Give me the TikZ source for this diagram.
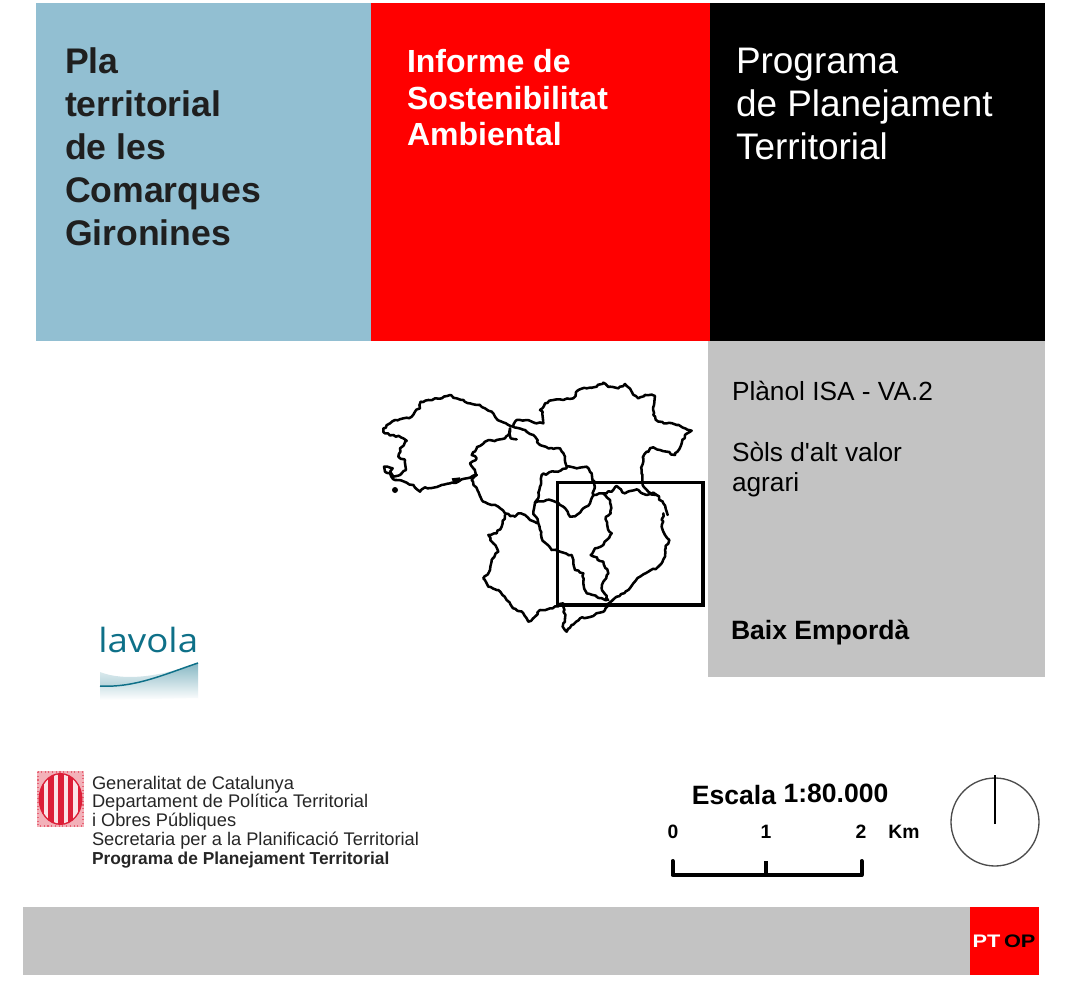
\documentclass[tikz,border=0pt]{standalone}
\usepackage{fontspec}
\setmainfont{Liberation Sans}
\newfontfamily\plainfont{Liberation Sans}
\usetikzlibrary{decorations.pathmorphing}
\definecolor{skyb}{HTML}{92BFD2}
\definecolor{panelgray}{HTML}{C3C3C3}
\definecolor{ptred}{HTML}{FF0000}
\definecolor{teal1}{HTML}{0E7088}
\definecolor{armred}{HTML}{DC1F38}
\newcommand{\fs}[2]{\fontsize{#1pt}{#2pt}\selectfont}
\newfontfamily\logofont{Open Sans}
\tikzset{
  txt/.style={inner sep=0pt,outer sep=0pt,anchor=north west,align=left},
  maplines/.style={draw=black,line width=1.9pt,line join=round,line cap=round,
     decorate,decoration={random steps,segment length=2.2pt,amplitude=0.8pt}},
  scaleline/.style={draw=black,line width=3pt,line cap=round,line join=round},
  scaletxt/.style={inner sep=0pt,anchor=base,font=\bfseries\fs{14.5}{16}},
  escaletxt/.style={inner sep=0pt,anchor=base,font=\bfseries\fs{19.9}{22}}
}
\begin{document}
\begin{tikzpicture}[x=0.75pt,y=-0.75pt]
\useasboundingbox (0,0) rectangle (1083,989);
\fill[white] (0,0) rectangle (1083,989);
\fill[skyb] (36,3) rectangle (371,341);
\fill[ptred] (371,3) rectangle (710,341);
\fill[black] (710,3) rectangle (1045,341);
\fill[panelgray] (708,341) rectangle (1045,677);
\fill[panelgray] (23,907) rectangle (970,975);
\fill[ptred] (970,907) rectangle (1039,975);

\node[txt,text=black!88,font=\bfseries\fs{26.7}{32.2}] (pla) at (65,47.5) {Pla\\territorial\\de les\\Comarques\\Gironines};
\node[txt,text=white,font=\bfseries\fs{24}{27.3}] (isa) at (407,49.5) {Informe de\\Sostenibilitat\\Ambiental};
\node[txt,text=white,font=\fs{27.7}{32.2}] (prog) at (736,48.5) {Programa\\de Planejament\\Territorial};
\node[txt,text=black,font=\fs{19.7}{22.5}] (pl) at (732,381) {Plànol ISA - VA.2};
\node[txt,text=black,font=\plainfont\fs{19.7}{22.5}] (sols) at (732,442) {Sòls d'alt valor\\agrari};
\node[txt,text=black,font=\bfseries\fs{19.9}{22.5}] (be) at (731,620) {Baix Empordà};

% map
\begin{scope}[shift={(370,370)},x=0.25pt,y=-0.25pt]
\pgfmathsetseed{7}
\draw[maplines] (430,170)--(415,165)--(395,155)--(375,140)--(365,125)--(345,115)--(325,105)--(300,100)--(280,90)--(260,85)--(240,75)--(215,85)--(195,85)--(175,90)--(152,95)--(150,115)--(135,125)--(125,140)--(100,145)--(75,150)--(60,160)--(40,175)--(45,190)--(70,195)--(100,205)--(110,212)--(90,235)--(85,260)--(105,270)--(108,300)--(90,315)--(70,320)--(60,305)--(68,295)--(42,290)--(45,305)--(60,310)--(75,330)--(110,338)--(130,345)--(150,365)--(165,352)--(195,352)--(215,345)--(240,340)--(265,335)--(290,325)--(320,315);
\fill[black] (75,360) circle (9);
\fill[black] (245,325)--(270,322)--(270,335)--(250,340)--cycle;
\draw[maplines] (430,170)--(440,150)--(470,150)--(500,160)--(520,160)--(518,125)--(510,120)--(525,100)--(550,90)--(580,90)--(610,85)--(625,60)--(650,55)--(680,50)--(700,38)--(720,50)--(745,55)--(765,42)--(785,65)--(805,85)--(825,75)--(855,78)--(850,110)--(850,135)--(865,155)--(890,160)--(920,165)--(965,182)--(945,195)--(935,220)--(915,255)--(890,245)--(870,240)--(850,232)--(830,245)--(820,265)--(815,300)--(818,345)--(835,365)--(860,375)--(880,400)--(893,435);
\draw[maplines] (880,430)--(875,470)--(885,495)--(898,510)--(885,540)--(885,560)--(865,590)--(835,605)--(810,620)--(790,640)--(775,660)--(740,680)--(715,700)--(705,720)--(670,738)--(630,745)--(605,765)--(590,785)--(578,770)--(585,745)--(580,710);
\draw[maplines] (440,208)--(422,205)--(420,175)--(415,195)--(405,205)--(380,210)--(345,215)--(320,235)--(305,255)--(320,265)--(300,280)--(320,315)--(305,330)--(325,365)--(340,395)--(365,405)--(385,410)--(405,430)--(435,440)--(445,430)--(465,435)--(480,450)--(500,460);
\draw[maplines] (432,172)--(465,180)--(490,195)--(510,225)--(535,235)--(570,235)--(585,260)--(590,290)--(620,295)--(650,290)--(665,310)--(672,340)--(670,375)--(660,400)--(640,415)--(620,435)--(600,440)--(580,410)--(555,395)--(530,390)--(495,398)--(490,425)--(505,460)--(515,505)--(545,540)--(570,545)--(605,555)--(615,600)--(640,610)--(640,640)--(650,670)--(680,680)--(710,690);
\draw[maplines] (590,295)--(555,305)--(515,315)--(510,350)--(505,385)--(495,398);
\draw[maplines] (672,375)--(700,370)--(725,365)--(740,348)--(765,370)--(805,360)--(830,375)--(860,375);
\draw[maplines] (700,370)--(720,390)--(722,430)--(708,440)--(715,480)--(725,490)--(700,525)--(675,535)--(662,555)--(700,575)--(715,610)--(700,635)--(695,655)--(715,690);
\draw[maplines] (405,435)--(395,470)--(380,490)--(355,495)--(370,520)--(385,545)--(365,570)--(360,600)--(340,625)--(355,650)--(385,660)--(410,690)--(430,715)--(460,730)--(475,755)--(495,740)--(510,720)--(540,715)--(580,700);
\draw[black,line width=2.6pt] (563,337) rectangle (999,705);
\end{scope}

% iavola logo
\node[inner sep=0pt,anchor=base west,text=teal1,font=\logofont\fs{25}{25},xscale=1.1] (lav) at (98,652) {lavola};
\shade[top color=teal1!5,bottom color=teal1!32] (100,672) .. controls (125,682) and (165,676) .. (198,662) -- (198,663) .. controls (165,674) and (135,688) .. (100,686) -- cycle;
\shade[top color=teal1!50,bottom color=white] (100,686) .. controls (135,688) and (165,674) .. (198,663) -- (198,698) -- (100,700) -- cycle;
\draw[teal1,line width=1.1pt] (100,686) .. controls (135,688) and (165,674) .. (198,663);

% arms
\fill[armred!35] (37,771) rectangle (84,827);
\draw[armred!70,line width=.8pt,dotted] (38,772) rectangle (83,826);
\fill[armred] (60.5,799) ellipse (22 and 26);
\begin{scope}
\clip (60.5,799) ellipse (20.5 and 24.5);
\foreach \xx in {46,56,66,75.5}{\fill[white!88!armred] (\xx-2.4,770) rectangle (\xx+2.4,828);}
\end{scope}

\node[txt,text=black!85,font=\fs{13.7}{14.06}] (gen) at (92,776) {Generalitat de Catalunya\\Departament de Política Territorial\\i Obres Públiques\\Secretaria per a la Planificació Territorial\\\textbf{\fontsize{13}{14.06}\selectfont Programa de Planejament Territorial}};

% scale
\node[escaletxt] (esc) at (734,804) {Escala};
\node[escaletxt] (rat) at (836,802) {1:80.000};
\node[scaletxt] (n0) at (673,838) {0};
\node[scaletxt] (n1) at (766,838) {1};
\node[scaletxt] (n2) at (861,838) {2};
\node[scaletxt] (km) at (904,838) {Km};
\draw[scaleline] (672.5,861)--(672.5,875)--(861.5,875)--(861.5,861);
\draw[draw=black,line width=2.4pt] (766,861)--(766,875);

% compass
\node[circle,draw=black!70,line width=1pt,minimum size=66pt,inner sep=0pt] (comp) at (995,822) {};
\coordinate (north) at (995,775);
\coordinate (south) at (995,824);
\draw[black,line width=1pt] (south) -- (north);

\node[inner sep=0pt,font=\bfseries\fs{13.6}{15},xscale=1.2] (pt) at (1004,941) {\textcolor{white}{PT}\,\textcolor{black}{OP}};
\end{tikzpicture}
\end{document}
